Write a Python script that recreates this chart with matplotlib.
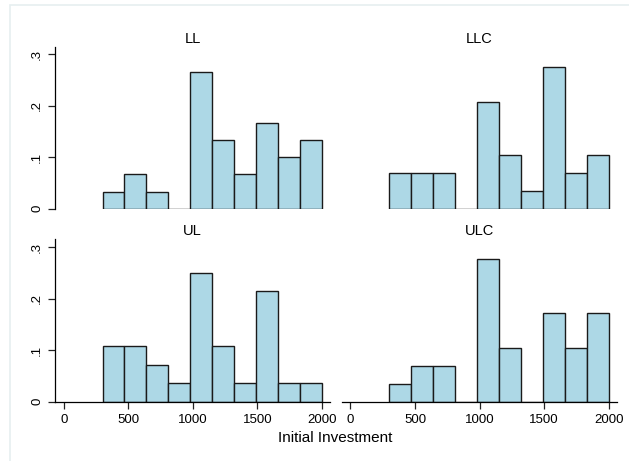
import numpy as np
import matplotlib.pyplot as plt
from matplotlib.patches import Rectangle

plt.rcParams['font.family'] = ['Liberation Sans', 'DejaVu Sans']

# bin edges of the histogram (width 170, starting at 300)
bin_edges = [300, 470, 640, 810, 980, 1150, 1320, 1490, 1660, 1830, 2000]

# fraction of observations per bin, one list per group
groups = ['LL', 'LLC', 'UL', 'ULC']
frac_ll = [1/30, 2/30, 1/30, 0, 8/30, 4/30, 2/30, 5/30, 3/30, 4/30]
frac_llc = [2/29, 2/29, 2/29, 0, 6/29, 3/29, 1/29, 8/29, 2/29, 3/29]
frac_ul = [3/28, 3/28, 2/28, 1/28, 7/28, 3/28, 1/28, 6/28, 1/28, 1/28]
frac_ulc = [1/29, 2/29, 2/29, 0, 8/29, 3/29, 0, 5/29, 3/29, 5/29]
fractions = [frac_ll, frac_llc, frac_ul, frac_ulc]

x_ticks = [0, 500, 1000, 1500, 2000]
y_ticks = [0, 0.1, 0.2, 0.3]
y_ticklabels = ['0', '.1', '.2', '.3']

fig = plt.figure(figsize=(6.29, 4.61), dpi=100)
W, H = 629, 461

# faint outer border like Stata's graph region
fig.patches.append(Rectangle((10 / W, -0.05), 1.1, (H - 5) / H + 0.05,
                             transform=fig.transFigure, fill=False,
                             edgecolor='#e6eff0', linewidth=1.2))

# panel boxes in pixels: (left, top, right, bottom)
boxes = [(55, 46.7, 330, 208.7), (341.7, 46.7, 616.7, 208.7),
         (55, 239.3, 330, 401.7), (341.7, 239.3, 616.7, 401.7)]

edges = np.array(bin_edges)
widths = np.diff(edges)

for i, (name, frac, box) in enumerate(zip(groups, fractions, boxes)):
    l, t, r, b = box
    ax = fig.add_axes([l / W, 1 - b / H, (r - l) / W, (b - t) / H])
    ax.bar(edges[:-1], frac, width=widths, align='edge',
           color='#add8e6', edgecolor='#1a1a1a', linewidth=1.0)
    ax.set_xlim(-68, 2062)
    ax.set_ylim(0, 0.315)
    for s in ['top', 'right']:
        ax.spines[s].set_visible(False)
    ax.set_title(name, fontsize=10.5, pad=3)
    ax.tick_params(labelsize=9.5, length=5, width=0.9, color='#222222')

    # y axis only on the left column
    if i % 2 == 0:
        ax.set_yticks(y_ticks)
        ax.set_yticklabels(y_ticklabels, rotation=90, va='center')
        ax.spines['left'].set_linewidth(0.9)
    else:
        ax.spines['left'].set_visible(False)
        ax.set_yticks([])

    # x axis only on the bottom row
    if i >= 2:
        ax.set_xticks(x_ticks)
        ax.spines['bottom'].set_linewidth(0.9)
    else:
        ax.spines['bottom'].set_visible(False)
        ax.set_xticks([])

fig.text(335 / W, 1 - 438 / H, 'Initial Investment', ha='center', va='center',
         fontsize=11)

fig.savefig('out.png', dpi=100)
